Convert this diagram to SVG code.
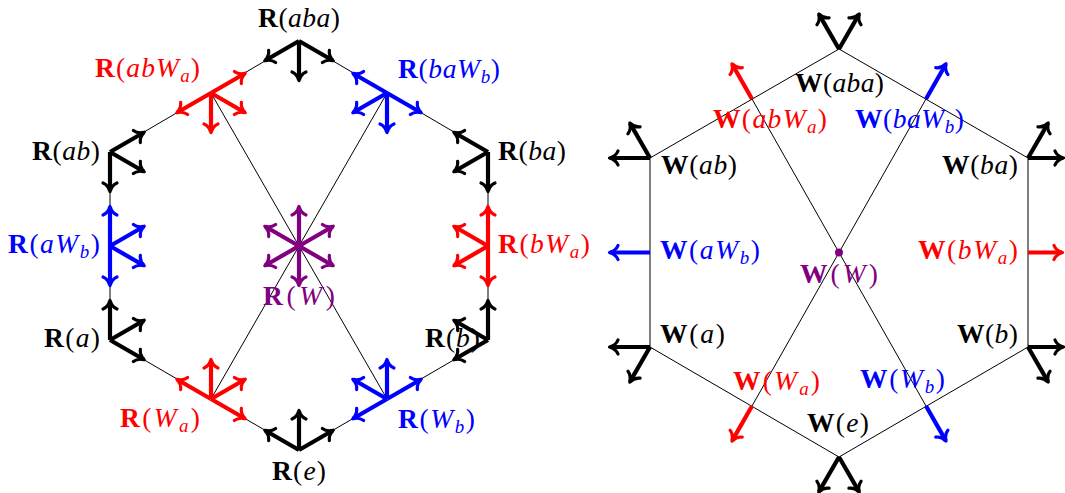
<svg xmlns="http://www.w3.org/2000/svg" width="1065" height="493" viewBox="0 0 1065 493">
<style>
text{font-family:"Liberation Serif","Times New Roman",serif;font-size:27.5px}
.bf{font-weight:bold}
.it{font-style:italic}
.sb{font-size:19px}
.tk{fill:#000}.tr{fill:#f00}.tb{fill:#00f}.tp{fill:#800080}
.a{fill:none;stroke-width:4.2;stroke-linecap:butt}
.k{stroke:#000;marker-end:url(#mk)}
.r{stroke:#f00;marker-end:url(#mr)}
.b{stroke:#00f;marker-end:url(#mb)}
.p{stroke:#800080;marker-end:url(#mp)}
.thin{fill:none;stroke:#000;stroke-width:1}
</style>
<defs>
<marker id="mk" markerUnits="userSpaceOnUse" markerWidth="20" markerHeight="20" refX="0" refY="0" orient="auto" overflow="visible"><path d="M-8,-7 C-6.5,-3.2 -2.5,-0.9 0.5,0 C-2.5,0.9 -6.5,3.2 -8,7" fill="none" stroke="#000" stroke-width="3.2" stroke-linecap="round" stroke-linejoin="round"/></marker>
<marker id="mr" markerUnits="userSpaceOnUse" markerWidth="20" markerHeight="20" refX="0" refY="0" orient="auto" overflow="visible"><path d="M-8,-7 C-6.5,-3.2 -2.5,-0.9 0.5,0 C-2.5,0.9 -6.5,3.2 -8,7" fill="none" stroke="#f00" stroke-width="3.2" stroke-linecap="round" stroke-linejoin="round"/></marker>
<marker id="mb" markerUnits="userSpaceOnUse" markerWidth="20" markerHeight="20" refX="0" refY="0" orient="auto" overflow="visible"><path d="M-8,-7 C-6.5,-3.2 -2.5,-0.9 0.5,0 C-2.5,0.9 -6.5,3.2 -8,7" fill="none" stroke="#00f" stroke-width="3.2" stroke-linecap="round" stroke-linejoin="round"/></marker>
<marker id="mp" markerUnits="userSpaceOnUse" markerWidth="20" markerHeight="20" refX="0" refY="0" orient="auto" overflow="visible"><path d="M-8,-7 C-6.5,-3.2 -2.5,-0.9 0.5,0 C-2.5,0.9 -6.5,3.2 -8,7" fill="none" stroke="#800080" stroke-width="3.2" stroke-linecap="round" stroke-linejoin="round"/></marker>
</defs>
<rect width="1065" height="493" fill="#fff"/>

<g id="connectors">
<polygon class="thin" points="110,152 299,41 488,152 488,340 299,450 110,340"/>
<line class="thin" x1="211" y1="93" x2="387" y2="399"/>
<line class="thin" x1="387" y1="93" x2="211" y2="399"/>
<polygon class="thin" points="650,158 839,49 1028,158 1028,347 839,457 650,347"/>
<line class="thin" x1="752" y1="99" x2="926" y2="406"/>
<line class="thin" x1="926" y1="99" x2="752" y2="406"/>
</g>

<!-- Left hexagon -->
<g id="R_aba">
<path class="a k" d="M299,41 L265.2,60.5"/><path class="a k" d="M299,41 L299,80"/><path class="a k" d="M299,41 L332.8,60.5"/>
<text class="tk" x="258" y="27" textLength="82" lengthAdjust="spacing"><tspan class="bf">R</tspan>(<tspan class="it">aba</tspan>)</text>
</g>
<g id="R_ab">
<path class="a k" d="M110,152 L143.8,132.5"/><path class="a k" d="M110,152 L143.8,171.5"/><path class="a k" d="M110,152 L110,191"/>
<text class="tk" x="32" y="160" textLength="68" lengthAdjust="spacing"><tspan class="bf">R</tspan>(<tspan class="it">ab</tspan>)</text>
</g>
<g id="R_ba">
<path class="a k" d="M488,152 L454.2,132.5"/><path class="a k" d="M488,152 L454.2,171.5"/><path class="a k" d="M488,152 L488,191"/>
<text class="tk" x="498" y="160" textLength="68" lengthAdjust="spacing"><tspan class="bf">R</tspan>(<tspan class="it">ba</tspan>)</text>
</g>
<g id="R_a">
<path class="a k" d="M110,340 L110,301"/><path class="a k" d="M110,340 L143.8,320.5"/><path class="a k" d="M110,340 L143.8,359.5"/>
<text class="tk" x="44" y="347" textLength="56" lengthAdjust="spacing"><tspan class="bf">R</tspan>(<tspan class="it">a</tspan>)</text>
</g>
<g id="R_b">
<path class="a k" d="M488,340 L488,301"/><path class="a k" d="M488,340 L454.2,320.5"/><path class="a k" d="M488,340 L454.2,359.5"/>
<text class="tk" x="425" y="347" textLength="55" lengthAdjust="spacing"><tspan class="bf">R</tspan>(<tspan class="it">b</tspan>)</text>
</g>
<g id="R_e">
<path class="a k" d="M299,450 L265.2,430.5"/><path class="a k" d="M299,450 L299,411"/><path class="a k" d="M299,450 L332.8,430.5"/>
<text class="tk" x="272" y="480" textLength="54" lengthAdjust="spacing"><tspan class="bf">R</tspan>(<tspan class="it">e</tspan>)</text>
</g>
<g id="R_abWa">
<path class="a r" d="M211,93 L244.8,73.5"/><path class="a r" d="M211,93 L177.2,112.5"/><path class="a r" d="M211,93 L211,132"/><path class="a r" d="M211,93 L244.8,112.5"/>
<text class="tr" x="95" y="77" textLength="105" lengthAdjust="spacing"><tspan class="bf">R</tspan>(<tspan class="it">abW</tspan><tspan class="it sb" dy="5">a</tspan><tspan dy="-5">)</tspan></text>
</g>
<g id="R_baWb">
<path class="a b" d="M387,93 L353.2,73.5"/><path class="a b" d="M387,93 L420.8,112.5"/><path class="a b" d="M387,93 L387,132"/><path class="a b" d="M387,93 L353.2,112.5"/>
<text class="tb" x="398" y="78" textLength="102" lengthAdjust="spacing"><tspan class="bf">R</tspan>(<tspan class="it">baW</tspan><tspan class="it sb" dy="5">b</tspan><tspan dy="-5">)</tspan></text>
</g>
<g id="R_aWb">
<path class="a b" d="M110,246 L110,207"/><path class="a b" d="M110,246 L110,285"/><path class="a b" d="M110,246 L143.8,226.5"/><path class="a b" d="M110,246 L143.8,265.5"/>
<text class="tb" x="8" y="253" textLength="92" lengthAdjust="spacing"><tspan class="bf">R</tspan>(<tspan class="it">aW</tspan><tspan class="it sb" dy="5">b</tspan><tspan dy="-5">)</tspan></text>
</g>
<g id="R_bWa">
<path class="a r" d="M488,246 L488,207"/><path class="a r" d="M488,246 L488,285"/><path class="a r" d="M488,246 L454.2,226.5"/><path class="a r" d="M488,246 L454.2,265.5"/>
<text class="tr" x="498" y="253" textLength="92" lengthAdjust="spacing"><tspan class="bf">R</tspan>(<tspan class="it">bW</tspan><tspan class="it sb" dy="5">a</tspan><tspan dy="-5">)</tspan></text>
</g>
<g id="R_Wa">
<path class="a r" d="M211,399 L177.2,379.5"/><path class="a r" d="M211,399 L244.8,418.5"/><path class="a r" d="M211,399 L211,360"/><path class="a r" d="M211,399 L244.8,379.5"/>
<text class="tr" x="120" y="427" textLength="80" lengthAdjust="spacing"><tspan class="bf">R</tspan>(<tspan class="it">W</tspan><tspan class="it sb" dy="5">a</tspan><tspan dy="-5">)</tspan></text>
</g>
<g id="R_Wb">
<path class="a b" d="M387,399 L420.8,379.5"/><path class="a b" d="M387,399 L353.2,418.5"/><path class="a b" d="M387,399 L387,360"/><path class="a b" d="M387,399 L353.2,379.5"/>
<text class="tb" x="398" y="428" textLength="77" lengthAdjust="spacing"><tspan class="bf">R</tspan>(<tspan class="it">W</tspan><tspan class="it sb" dy="5">b</tspan><tspan dy="-5">)</tspan></text>
</g>
<g id="R_W">
<path class="a p" d="M299,246 L299,207"/><path class="a p" d="M299,246 L299,285"/><path class="a p" d="M299,246 L332.8,226.5"/><path class="a p" d="M299,246 L265.2,226.5"/><path class="a p" d="M299,246 L265.2,265.5"/><path class="a p" d="M299,246 L332.8,265.5"/>
<text class="tp" x="263" y="305" textLength="72" lengthAdjust="spacing"><tspan class="bf">R</tspan>(<tspan class="it">W</tspan>)</text>
</g>

<!-- Right hexagon -->
<g id="W_aba">
<path class="a k" d="M839,49 L819,14.4"/><path class="a k" d="M839,49 L859,14.4"/>
<text class="tk" x="795" y="92" textLength="89" lengthAdjust="spacing"><tspan class="bf">W</tspan>(<tspan class="it">aba</tspan>)</text>
</g>
<g id="W_ab">
<path class="a k" d="M650,158 L610,158"/><path class="a k" d="M650,158 L630,123.4"/>
<text class="tk" x="661" y="174" textLength="76" lengthAdjust="spacing"><tspan class="bf">W</tspan>(<tspan class="it">ab</tspan>)</text>
</g>
<g id="W_ba">
<path class="a k" d="M1028,158 L1048,123.4"/><path class="a k" d="M1028,158 L1063,158"/>
<text class="tk" x="942" y="174" textLength="76" lengthAdjust="spacing"><tspan class="bf">W</tspan>(<tspan class="it">ba</tspan>)</text>
</g>
<g id="W_a">
<path class="a k" d="M650,347 L610,347"/><path class="a k" d="M650,347 L630,381.6"/>
<text class="tk" x="660" y="343" textLength="65" lengthAdjust="spacing"><tspan class="bf">W</tspan>(<tspan class="it">a</tspan>)</text>
</g>
<g id="W_b">
<path class="a k" d="M1028,347 L1063,347"/><path class="a k" d="M1028,347 L1048,381.6"/>
<text class="tk" x="957" y="343" textLength="61" lengthAdjust="spacing"><tspan class="bf">W</tspan>(<tspan class="it">b</tspan>)</text>
</g>
<g id="W_e">
<path class="a k" d="M839,457 L819,491.6"/><path class="a k" d="M839,457 L859,491.6"/>
<text class="tk" x="807" y="432" textLength="62" lengthAdjust="spacing"><tspan class="bf">W</tspan>(<tspan class="it">e</tspan>)</text>
</g>
<g id="W_abWa">
<path class="a r" d="M752,99 L732.2,64.2"/>
<text class="tr" x="713" y="128" textLength="114" lengthAdjust="spacing"><tspan class="bf">W</tspan>(<tspan class="it">abW</tspan><tspan class="it sb" dy="5">a</tspan><tspan dy="-5">)</tspan></text>
</g>
<g id="W_baWb">
<path class="a b" d="M926,99 L945.8,64.2"/>
<text class="tb" x="855" y="128" textLength="109" lengthAdjust="spacing"><tspan class="bf">W</tspan>(<tspan class="it">baW</tspan><tspan class="it sb" dy="5">b</tspan><tspan dy="-5">)</tspan></text>
</g>
<g id="W_aWb">
<path class="a b" d="M650,252.5 L610,252.5"/>
<text class="tb" x="660" y="259" textLength="100" lengthAdjust="spacing"><tspan class="bf">W</tspan>(<tspan class="it">aW</tspan><tspan class="it sb" dy="5">b</tspan><tspan dy="-5">)</tspan></text>
</g>
<g id="W_bWa">
<path class="a r" d="M1028,252.5 L1062,252.5"/>
<text class="tr" x="918" y="259" textLength="100" lengthAdjust="spacing"><tspan class="bf">W</tspan>(<tspan class="it">bW</tspan><tspan class="it sb" dy="5">a</tspan><tspan dy="-5">)</tspan></text>
</g>
<g id="W_Wa">
<path class="a r" d="M752,406 L732.2,440.6"/>
<text class="tr" x="733" y="390" textLength="87" lengthAdjust="spacing"><tspan class="bf">W</tspan>(<tspan class="it">W</tspan><tspan class="it sb" dy="5">a</tspan><tspan dy="-5">)</tspan></text>
</g>
<g id="W_Wb">
<path class="a b" d="M926,406 L945.8,440.6"/>
<text class="tb" x="860" y="388" textLength="85" lengthAdjust="spacing"><tspan class="bf">W</tspan>(<tspan class="it">W</tspan><tspan class="it sb" dy="5">b</tspan><tspan dy="-5">)</tspan></text>
</g>
<g id="W_W">
<circle cx="839" cy="252.5" r="4" fill="#800080"/>
<text class="tp" x="800" y="283" textLength="78" lengthAdjust="spacing"><tspan class="bf">W</tspan>(<tspan class="it">W</tspan>)</text>
</g>
</svg>
